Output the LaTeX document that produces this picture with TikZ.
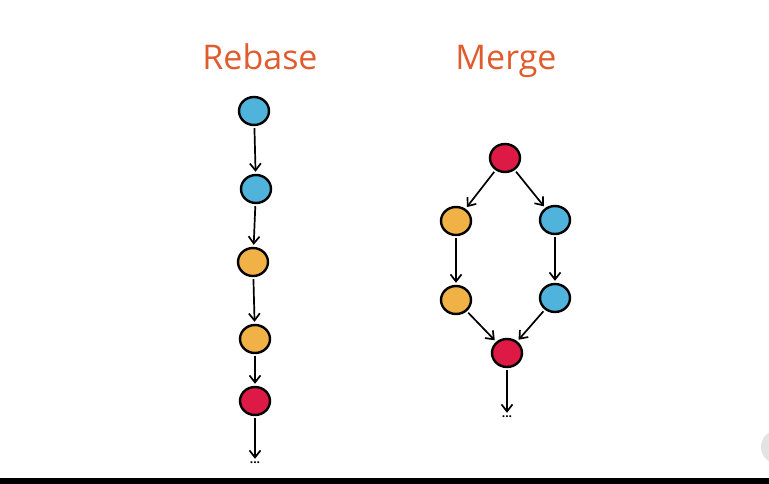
\documentclass[tikz,border=0pt]{standalone}
\usepackage{fontspec}
\setmainfont{Open Sans}
\usetikzlibrary{shapes.geometric,arrows.meta}
\definecolor{cblue}{HTML}{4FB3DC}
\definecolor{corange}{HTML}{F0B247}
\definecolor{cred}{HTML}{DC1A45}
\definecolor{ctitle}{HTML}{E05C2C}
\begin{document}
\begin{tikzpicture}[x=1pt,y=-1pt,
  commit/.style={ellipse,draw=black,line width=2.4pt,minimum width=30pt,minimum height=28pt,inner sep=0pt},
  bluec/.style={commit,fill=cblue},
  orangec/.style={commit,fill=corange},
  redc/.style={commit,fill=cred},
  link/.style={draw=black,line width=1.7pt,-{Straight Barb[length=7pt,width=11pt,line width=1.7pt]},shorten <=2pt,shorten >=2pt},
  title/.style={text=ctitle,anchor=base,inner sep=0pt,font=\fontsize{34}{40}\selectfont},
  dots/.style={font=\bfseries\fontsize{12}{12}\selectfont,inner sep=1pt}]
\useasboundingbox (0,0) rectangle (769,484);
\fill[white] (0,0) rectangle (769,484);
% bottom bar and corner circle
\fill[black] (0,478) rectangle (769,484);
\begin{scope}
\clip (0,0) rectangle (769,478);
\fill[gray!22] (778,447) circle (17);
\end{scope}
% titles
\node[title] (trebase) at (260,70) {Rebase};
\node[title] (tmerge) at (506,70) {Merge};
% rebase column
\node[bluec] (r1) at (254,111) {};
\node[bluec] (r2) at (256,189) {};
\node[orangec] (r3) at (253,262) {};
\node[orangec] (r4) at (255,339) {};
\node[redc] (r5) at (255,401) {};
\node[dots] (rd) at (255,463) {...};
\draw[link] (r1) -- (r2);
\draw[link] (r2) -- (r3);
\draw[link] (r3) -- (r4);
\draw[link] (r4) -- (r5);
\draw[link] (r5) -- (rd);
% merge graph
\node[redc] (m1) at (505,158) {};
\node[orangec] (m2) at (456,221) {};
\node[bluec] (m3) at (555,220) {};
\node[orangec] (m4) at (456,300) {};
\node[bluec] (m5) at (555,298) {};
\node[redc] (m6) at (507,353) {};
\node[dots] (md) at (507,417) {...};
\draw[link] (m1) -- (m2);
\draw[link] (m1) -- (m3);
\draw[link] (m2) -- (m4);
\draw[link] (m3) -- (m5);
\draw[link] (m4) -- (m6);
\draw[link] (m5) -- (m6);
\draw[link] (m6) -- (md);
\end{tikzpicture}
\end{document}
